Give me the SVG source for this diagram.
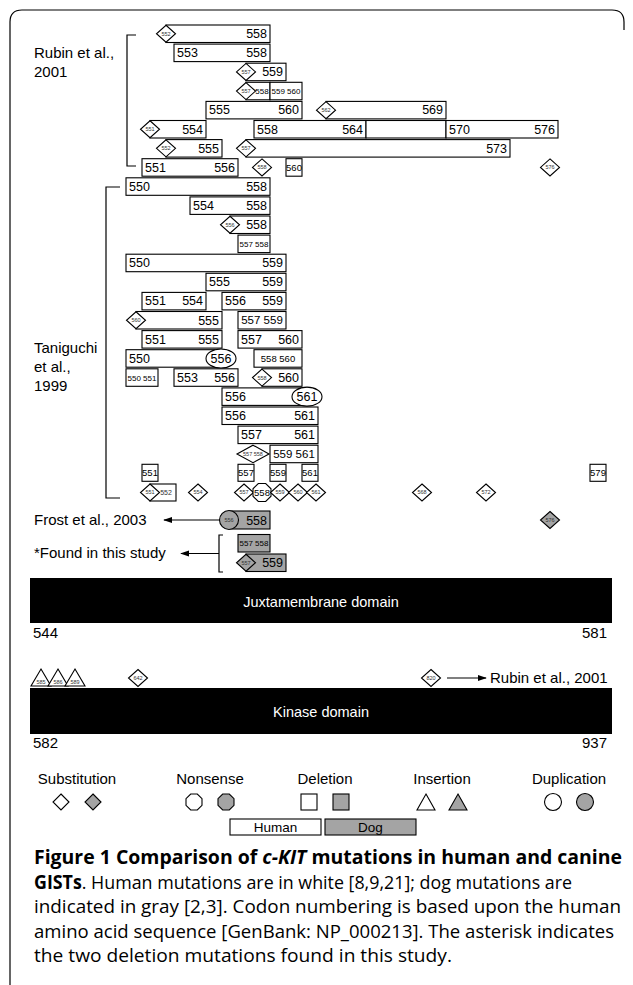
<svg xmlns="http://www.w3.org/2000/svg" xmlns:xlink="http://www.w3.org/1999/xlink" width="633" height="985" viewBox="0 0 633 985">
<style>
.b{fill:#fff;stroke:#000;stroke-width:1.1}
.g{fill:#a4a4a4;stroke:#000;stroke-width:1.1}
.ln{fill:none;stroke:#000;stroke-width:1.2}
text{font-family:"Liberation Sans",Arial,Helvetica,sans-serif;fill:#000}
.t{font-size:12.5px}
.e{text-anchor:end}
.m{text-anchor:middle}
.s{font-size:8px;text-anchor:middle}
.x{font-size:9.5px;text-anchor:middle}
.k{font-size:11.5px;text-anchor:middle}
.d{font-size:5.5px;text-anchor:middle;fill:#333}
.lab{font-size:15px}
.w{fill:#fff;font-size:14.5px;text-anchor:middle}
.cap{font-family:"Open Sans","Noto Sans",sans-serif;font-size:19px}
</style>
<defs>
<polygon id="dia" points="0,-8.5 9.5,0 0,8.5 -9.5,0"/>
<polygon id="oct" points="-3.7,-9 3.7,-9 9,-3.7 9,3.7 3.7,9 -3.7,9 -9,3.7 -9,-3.7"/>
<marker id="ah" viewBox="0 0 10 10" refX="9" refY="5" markerWidth="9" markerHeight="9" markerUnits="userSpaceOnUse" orient="auto">
<path d="M0,1.5 L10,5 L0,8.5 Z" fill="#000"/>
</marker>
</defs>

<path class="ln" d="M10,985 V22 Q10,10 22,10 H612 Q624,10 624,22 V30"/>

<g id="labels">
<text class="lab" x="34" y="58">Rubin et al.,</text>
<text class="lab" x="34" y="77">2001</text>
<text class="lab" x="34" y="353">Taniguchi</text>
<text class="lab" x="34" y="372">et al.,</text>
<text class="lab" x="34" y="391">1999</text>
<text class="lab" x="34" y="525">Frost et al., 2003</text>
<text class="lab" x="34" y="558">*Found in this study</text>
</g>

<g id="connectors">
<path class="ln" d="M136,35 H127 V166 H136"/>
<path class="ln" d="M120,187 H106 V498 H120"/>
<path class="ln" d="M223,535 H219 V572 H223"/>
<line class="ln" x1="219" y1="520" x2="164" y2="520" marker-end="url(#ah)"/>
<line class="ln" x1="219" y1="553.5" x2="181" y2="553.5" marker-end="url(#ah)"/>
<line class="ln" x1="447" y1="678" x2="486" y2="678" marker-end="url(#ah)"/>
</g>

<g id="rubin">
<g id="r0"><rect class="b" x="166" y="25" width="104" height="17.5"/><use xlink:href="#dia" class="b" x="166" y="33.75"/><text class="d" x="166" y="35.7">552</text><text class="t e" x="267" y="38">558</text></g>
<g id="r1"><rect class="b" x="174" y="44.1" width="96" height="17.5"/><text class="t" x="177" y="57.1">553</text><text class="t e" x="267" y="57.1">558</text></g>
<g id="r2"><rect class="b" x="246" y="63.2" width="40" height="17.5"/><use xlink:href="#dia" class="b" x="246" y="71.95"/><text class="d" x="246" y="73.9">557</text><text class="t e" x="283" y="76.2">559</text></g>
<g id="r3"><rect class="b" x="246" y="82.3" width="24" height="17.5"/><use xlink:href="#dia" class="b" x="246" y="91.05"/><text class="d" x="246" y="93">557</text><text class="s" x="262" y="94">558</text><rect class="b" x="270" y="82.3" width="32" height="17.5"/><text class="s" x="286" y="94">559 560</text></g>
<g id="r4"><rect class="b" x="206" y="101.4" width="96" height="17.5"/><text class="t" x="209" y="114.4">555</text><text class="t e" x="299" y="114.4">560</text><rect class="b" x="326" y="101.4" width="120" height="17.5"/><use xlink:href="#dia" class="b" x="326" y="110.15"/><text class="d" x="326" y="112.1">562</text><text class="t e" x="443" y="114.4">569</text></g>
<g id="r5"><rect class="b" x="150" y="120.5" width="56" height="17.5"/><use xlink:href="#dia" class="b" x="150" y="129.25"/><text class="d" x="150" y="131.2">551</text><text class="t e" x="203" y="133.5">554</text><rect class="b" x="254" y="120.5" width="112" height="17.5"/><text class="t" x="257" y="133.5">558</text><text class="t e" x="363" y="133.5">564</text><rect class="b" x="366" y="120.5" width="80" height="17.5"/><rect class="b" x="446" y="120.5" width="112" height="17.5"/><text class="t" x="449" y="133.5">570</text><text class="t e" x="555" y="133.5">576</text></g>
<g id="r6"><rect class="b" x="166" y="139.6" width="56" height="17.5"/><use xlink:href="#dia" class="b" x="166" y="148.35"/><text class="d" x="166" y="150.3">552</text><text class="t e" x="219" y="152.6">555</text><rect class="b" x="246" y="139.6" width="264" height="17.5"/><use xlink:href="#dia" class="b" x="246" y="148.35"/><text class="d" x="246" y="150.3">557</text><text class="t e" x="507" y="152.6">573</text></g>
<g id="r7"><rect class="b" x="142" y="158.7" width="96" height="17.5"/><text class="t" x="145" y="171.7">551</text><text class="t e" x="235" y="171.7">556</text><use xlink:href="#dia" class="b" x="262" y="167.45"/><text class="d" x="262" y="169.4">558</text><rect class="b" x="286" y="158.7" width="16" height="17.5"/><text class="x" x="294" y="170.8">560</text><use xlink:href="#dia" class="b" x="550" y="167.45"/><text class="d" x="550" y="169.4">576</text></g>
</g>

<g id="taniguchi">
<g id="t1"><rect class="b" x="126" y="177.8" width="144" height="17.5"/><text class="t" x="129" y="190.8">550</text><text class="t e" x="267" y="190.8">558</text></g>
<g id="t2"><rect class="b" x="190" y="196.9" width="80" height="17.5"/><text class="t" x="193" y="209.9">554</text><text class="t e" x="267" y="209.9">558</text></g>
<g id="t3"><rect class="b" x="230" y="216" width="40" height="17.5"/><use xlink:href="#dia" class="b" x="230" y="224.75"/><text class="d" x="230" y="226.7">556</text><text class="t e" x="267" y="229">558</text></g>
<g id="t4"><rect class="b" x="238" y="235.1" width="32" height="17.5"/><text class="s" x="254" y="246.8">557 558</text></g>
<g id="t5"><rect class="b" x="126" y="254.2" width="160" height="17.5"/><text class="t" x="129" y="267.2">550</text><text class="t e" x="283" y="267.2">559</text></g>
<g id="t6"><rect class="b" x="206" y="273.3" width="80" height="17.5"/><text class="t" x="209" y="286.3">555</text><text class="t e" x="283" y="286.3">559</text></g>
<g id="t7"><rect class="b" x="142" y="292.4" width="64" height="17.5"/><text class="t" x="145" y="305.4">551</text><text class="t e" x="203" y="305.4">554</text><rect class="b" x="222" y="292.4" width="64" height="17.5"/><text class="t" x="225" y="305.4">556</text><text class="t e" x="283" y="305.4">559</text></g>
<g id="t8"><rect class="b" x="136" y="311.5" width="86" height="17.5"/><use xlink:href="#dia" class="b" x="136" y="320.25"/><text class="d" x="136" y="322.2">560</text><text class="t e" x="219" y="324.5">555</text><rect class="b" x="238" y="311.5" width="48" height="17.5"/><text class="k" x="262" y="324.3">557 559</text></g>
<g id="t9"><rect class="b" x="142" y="330.6" width="80" height="17.5"/><text class="t" x="145" y="343.6">551</text><text class="t e" x="219" y="343.6">555</text><rect class="b" x="238" y="330.6" width="64" height="17.5"/><text class="t" x="241" y="343.6">557</text><text class="t e" x="299" y="343.6">560</text></g>
<g id="t10"><rect class="b" x="126" y="349.7" width="100" height="17.5"/><text class="t" x="129" y="362.7">550</text><ellipse class="b" cx="221" cy="358.45" rx="15" ry="9.5"/><text class="t m" x="221" y="362.7">556</text><rect class="b" x="254" y="349.7" width="48" height="17.5"/><text class="x" x="278" y="361.8">558 560</text></g>
<g id="t11"><rect class="b" x="126" y="368.8" width="32" height="17.5"/><text class="s" x="142" y="380.5">550 551</text><rect class="b" x="174" y="368.8" width="64" height="17.5"/><text class="t" x="177" y="381.8">553</text><text class="t e" x="235" y="381.8">556</text><rect class="b" x="262" y="368.8" width="40" height="17.5"/><use xlink:href="#dia" class="b" x="262" y="377.55"/><text class="d" x="262" y="379.5">558</text><text class="t e" x="299" y="381.8">560</text></g>
<g id="t12"><rect class="b" x="222" y="387.9" width="86" height="17.5"/><text class="t" x="225" y="400.9">556</text><ellipse class="b" cx="307" cy="396.65" rx="15" ry="9.5"/><text class="t m" x="307" y="400.9">561</text></g>
<g id="t13"><rect class="b" x="222" y="407" width="96" height="17.5"/><text class="t" x="225" y="420">556</text><text class="t e" x="315" y="420">561</text></g>
<g id="t14"><rect class="b" x="238" y="426.1" width="80" height="17.5"/><text class="t" x="241" y="439.1">557</text><text class="t e" x="315" y="439.1">561</text></g>
<g id="t15"><polygon class="b" points="253,445.2 269,453.95 253,462.7 237,453.95"/><text class="d" x="253" y="455.9">557 558</text><rect class="b" x="270" y="445.2" width="48" height="17.5"/><text class="k" x="294" y="458">559 561</text></g>
<g id="t16"><rect class="b" x="142" y="464.3" width="16" height="17"/><text class="x" x="150" y="476">551</text><rect class="b" x="238" y="464.3" width="16" height="17"/><text class="x" x="246" y="476">557</text><rect class="b" x="270" y="464.3" width="16" height="17"/><text class="x" x="278" y="476">559</text><rect class="b" x="302" y="464.3" width="16" height="17"/><text class="x" x="310" y="476">561</text><rect class="b" x="590" y="464.3" width="16" height="17"/><text class="x" x="598" y="476">579</text></g>
<g id="t17"><rect class="b" x="150" y="484" width="26" height="17"/><text class="d" x="166" y="494.5" style="font-size:7px">552</text><use xlink:href="#dia" class="b" x="150" y="492.5"/><text class="d" x="150" y="494.4">551</text><use xlink:href="#dia" class="b" x="198" y="492.5"/><text class="d" x="198" y="494.4">554</text><use xlink:href="#dia" class="b" x="244" y="492.5"/><text class="d" x="244" y="494.4">557</text><use xlink:href="#oct" class="b" x="262" y="492.5"/><text class="m" x="262" y="496" style="font-size:9.5px">558</text><use xlink:href="#dia" class="b" x="280" y="492.5"/><text class="d" x="280" y="494.4">559</text><use xlink:href="#dia" class="b" x="298" y="492.5"/><text class="d" x="298" y="494.4">560</text><use xlink:href="#dia" class="b" x="316" y="492.5"/><text class="d" x="316" y="494.4">561</text><use xlink:href="#dia" class="b" x="422" y="492.5"/><text class="d" x="422" y="494.4">568</text><use xlink:href="#dia" class="b" x="486" y="492.5"/><text class="d" x="486" y="494.4">572</text></g>
</g>

<g id="frost"><rect class="g" x="230" y="511" width="40" height="18"/><circle class="g" cx="229" cy="520" r="9.5"/><text class="d" x="229" y="522">556</text><text class="t e" x="267" y="524.5">558</text><use xlink:href="#dia" class="g" x="550" y="520"/><text class="d" x="550" y="522">576</text></g>
<g id="found"><rect class="g" x="238" y="534.5" width="32" height="17.5"/><text class="s" x="254" y="546.2">557 558</text><rect class="g" x="246" y="554" width="40" height="17.5"/><use xlink:href="#dia" class="g" x="246" y="562.75"/><text class="d" x="246" y="564.7">557</text><text class="t e" x="283" y="567">559</text></g>

<g id="juxtamembrane"><rect x="30" y="578" width="582" height="45" fill="#000"/><text class="w" x="321" y="607">Juxtamembrane domain</text><text class="lab" x="33" y="638">544</text><text class="lab e" x="607" y="638">581</text></g>

<g id="kinase-muts">
<polygon class="b" points="41,669 51,686 31,686"/><text class="d" x="41" y="684">585</text>
<polygon class="b" points="58,669 68,686 48,686"/><text class="d" x="58" y="684">586</text>
<polygon class="b" points="75,669 85,686 65,686"/><text class="d" x="75" y="684">589</text>
<use xlink:href="#dia" class="b" x="138" y="678"/><text class="d" x="138" y="680">642</text>
<use xlink:href="#dia" class="b" x="431" y="678"/><text class="d" x="431" y="680">820</text>
<text class="lab" x="490" y="683">Rubin et al., 2001</text>
</g>

<g id="kinase"><rect x="30" y="688" width="582" height="46" fill="#000"/><text class="w" x="321" y="717">Kinase domain</text><text class="lab" x="33" y="748">582</text><text class="lab e" x="607" y="748">937</text></g>

<g id="legend">
<text class="lab m" x="77" y="784">Substitution</text>
<text class="lab m" x="210" y="784">Nonsense</text>
<text class="lab m" x="325" y="784">Deletion</text>
<text class="lab m" x="442" y="784">Insertion</text>
<text class="lab m" x="569" y="784">Duplication</text>
<polygon class="b" points="61,794 69,802 61,810 53,802"/>
<polygon class="g" points="93,794 101,802 93,810 85,802"/>
<polygon class="b" points="190.7,794 197.3,794 202,798.7 202,805.3 197.3,810 190.7,810 186,805.3 186,798.7"/>
<polygon class="g" points="222.7,794 229.3,794 234,798.7 234,805.3 229.3,810 222.7,810 218,805.3 218,798.7"/>
<rect class="b" x="301" y="794" width="16" height="16"/>
<rect class="g" x="333" y="794" width="16" height="16"/>
<polygon class="b" points="426,794 435,810 417,810"/>
<polygon class="g" points="458,794 467,810 449,810"/>
<circle class="b" cx="553" cy="802" r="8.5"/>
<circle class="g" cx="585" cy="802" r="8.5"/>
<rect class="b" x="230" y="819" width="91" height="16"/><text class="m" x="275.5" y="832" style="font-size:13.5px">Human</text>
<rect class="g" x="325" y="819" width="91" height="16"/><text class="m" x="370.5" y="832" style="font-size:13.5px">Dog</text>
</g>

<g id="caption">
<text class="cap" x="34" y="864" textLength="588" lengthAdjust="spacingAndGlyphs" style="font-weight:bold">Figure 1 Comparison of <tspan font-style="italic">c-KIT</tspan> mutations in human and canine</text>
<text class="cap" x="34" y="889" textLength="538" lengthAdjust="spacingAndGlyphs"><tspan font-weight="bold">GISTs</tspan>. Human mutations are in white [8,9,21]; dog mutations are</text>
<text class="cap" x="34" y="913" textLength="587" lengthAdjust="spacingAndGlyphs">indicated in gray [2,3]. Codon numbering is based upon the human</text>
<text class="cap" x="34" y="938" textLength="580" lengthAdjust="spacingAndGlyphs">amino acid sequence [GenBank: NP_000213]. The asterisk indicates</text>
<text class="cap" x="34" y="962" textLength="418" lengthAdjust="spacingAndGlyphs">the two deletion mutations found in this study.</text>
</g>
</svg>
